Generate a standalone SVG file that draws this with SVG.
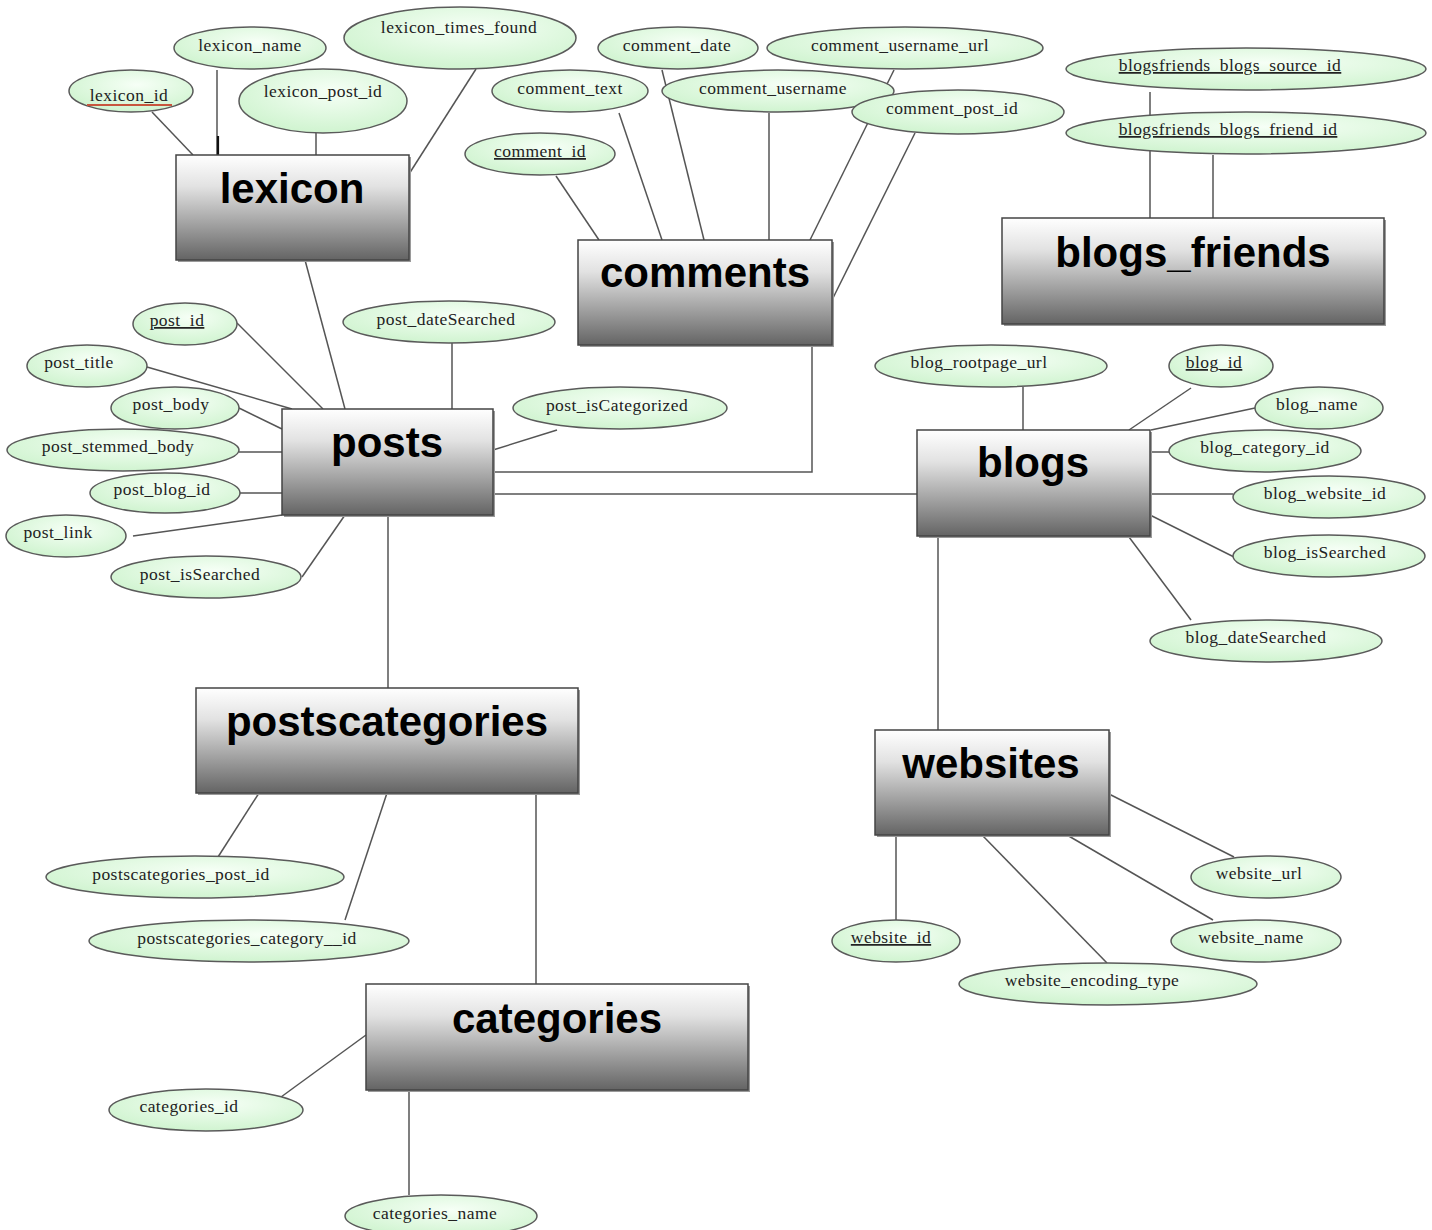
<svg xmlns="http://www.w3.org/2000/svg" width="1432" height="1230" viewBox="0 0 1432 1230">
  <defs>
    <linearGradient id="entityFill" x1="0" y1="0" x2="0" y2="1">
      <stop offset="0" stop-color="#ffffff"/>
      <stop offset="0.3" stop-color="#e2e2e2"/>
      <stop offset="1" stop-color="#646464"/>
    </linearGradient>
    <radialGradient id="attrFill" cx="0.55" cy="0.35" r="0.7">
      <stop offset="0" stop-color="#f6fff6"/>
      <stop offset="1" stop-color="#cdf3cd"/>
    </radialGradient>
    <style>
      .entity rect.box { fill: url(#entityFill); stroke: #444; stroke-width: 1.5; }
      .entity rect.shadow { fill: #9a9a9a; }
      .entity text { font-family: "Liberation Sans", Arial, sans-serif; font-weight: bold; font-size: 42px; fill: #000; text-anchor: middle; }
      .attr ellipse { fill: url(#attrFill); stroke: #5a5a5a; stroke-width: 1.5; }
      .attr text { font-family: "Liberation Serif", "Times New Roman", serif; font-size: 17.5px; letter-spacing: 0.45px; fill: #222; text-anchor: middle; }
      .attr text.key { text-decoration: underline; }
      #connectors line, #connectors polyline { stroke: #555; stroke-width: 1.5; fill: none; }
    </style>
  </defs>
  <rect width="1432" height="1230" fill="#ffffff"/>

  <!-- relationship and attribute lines -->
  <g id="connectors">
    <!-- lexicon -->
    <line x1="152" y1="112" x2="193" y2="155"/>
    <line x1="217" y1="70" x2="217" y2="155"/>
    <line x1="316" y1="133" x2="316" y2="155"/>
    <line x1="476" y1="69" x2="409" y2="174"/>
    <line x1="305" y1="260" x2="345" y2="409"/>
    <!-- comments -->
    <line x1="556" y1="176" x2="599" y2="240"/>
    <line x1="619" y1="113" x2="662" y2="240"/>
    <line x1="662" y1="70" x2="704" y2="240"/>
    <line x1="769" y1="113" x2="769" y2="240"/>
    <line x1="894" y1="70" x2="810" y2="240"/>
    <line x1="915" y1="133" x2="832" y2="300"/>
    <polyline points="812,345 812,472 493,472"/>
    <!-- blogs_friends -->
    <line x1="1150" y1="92" x2="1150" y2="218"/>
    <line x1="1213" y1="155" x2="1213" y2="218"/>
    <!-- posts -->
    <line x1="237" y1="323" x2="323" y2="409"/>
    <line x1="147" y1="367" x2="292" y2="409"/>
    <line x1="239" y1="408" x2="282" y2="429"/>
    <line x1="239" y1="452" x2="282" y2="452"/>
    <line x1="239" y1="493" x2="282" y2="493"/>
    <line x1="133" y1="536" x2="282" y2="515"/>
    <line x1="302" y1="577" x2="345" y2="515"/>
    <line x1="452" y1="343" x2="452" y2="409"/>
    <line x1="557" y1="430" x2="493" y2="450"/>
    <line x1="493" y1="494" x2="917" y2="494"/>
    <line x1="388" y1="515" x2="388" y2="688"/>
    <!-- blogs -->
    <line x1="1023" y1="387" x2="1023" y2="430"/>
    <line x1="1191" y1="388" x2="1129" y2="430"/>
    <line x1="1255" y1="408" x2="1151" y2="430"/>
    <line x1="1150" y1="452" x2="1169" y2="452"/>
    <line x1="1150" y1="494" x2="1233" y2="494"/>
    <line x1="1150" y1="515" x2="1234" y2="557"/>
    <line x1="1129" y1="537" x2="1191" y2="620"/>
    <line x1="938" y1="536" x2="938" y2="730"/>
    <!-- postscategories -->
    <line x1="259" y1="793" x2="218" y2="857"/>
    <line x1="387" y1="793" x2="345" y2="920"/>
    <line x1="536" y1="793" x2="536" y2="984"/>
    <!-- websites -->
    <line x1="896" y1="835" x2="896" y2="920"/>
    <line x1="982" y1="835" x2="1107" y2="963"/>
    <line x1="1067" y1="835" x2="1213" y2="920"/>
    <line x1="1109" y1="794" x2="1234" y2="857"/>
    <!-- categories -->
    <line x1="281" y1="1097" x2="366" y2="1035"/>
    <line x1="409" y1="1090" x2="409" y2="1195"/>
  </g>
  <!-- darker stub where lexicon_name meets the box -->
  <line x1="218" y1="136" x2="218" y2="166" stroke="#111" stroke-width="2.2"/>

  <!-- entities -->
  <g id="lexicon" class="entity">
    <rect class="shadow" x="178" y="157" width="233" height="105"/>
    <rect class="box" x="176" y="155" width="233" height="105"/>
    <text x="292" y="203">lexicon</text>
  </g>
  <g id="comments" class="entity">
    <rect class="shadow" x="580" y="242" width="254" height="105"/>
    <rect class="box" x="578" y="240" width="254" height="105"/>
    <text x="705" y="287">comments</text>
  </g>
  <g id="blogs_friends" class="entity">
    <rect class="shadow" x="1004" y="220" width="382" height="106"/>
    <rect class="box" x="1002" y="218" width="382" height="106"/>
    <text x="1193" y="267">blogs_friends</text>
  </g>
  <g id="posts" class="entity">
    <rect class="shadow" x="284" y="411" width="211" height="106"/>
    <rect class="box" x="282" y="409" width="211" height="106"/>
    <text x="387" y="457">posts</text>
  </g>
  <g id="blogs" class="entity">
    <rect class="shadow" x="919" y="432" width="233" height="106"/>
    <rect class="box" x="917" y="430" width="233" height="106"/>
    <text x="1033" y="477">blogs</text>
  </g>
  <g id="postscategories" class="entity">
    <rect class="shadow" x="198" y="690" width="382" height="105"/>
    <rect class="box" x="196" y="688" width="382" height="105"/>
    <text x="387" y="736">postscategories</text>
  </g>
  <g id="websites" class="entity">
    <rect class="shadow" x="877" y="732" width="234" height="105"/>
    <rect class="box" x="875" y="730" width="234" height="105"/>
    <text x="991" y="778">websites</text>
  </g>
  <g id="categories" class="entity">
    <rect class="shadow" x="368" y="986" width="382" height="106"/>
    <rect class="box" x="366" y="984" width="382" height="106"/>
    <text x="557" y="1033">categories</text>
  </g>

  <!-- lexicon attributes -->
  <g id="attr-lexicon_id" class="attr">
    <ellipse cx="131" cy="91" rx="62" ry="21"/>
    <text x="129" y="101">lexicon_id</text>
    <line x1="87" y1="105" x2="172" y2="105" stroke="#c8553d" stroke-width="2.2"/>
  </g>
  <g id="attr-lexicon_name" class="attr">
    <ellipse cx="250" cy="48" rx="76" ry="21"/>
    <text x="250" y="51">lexicon_name</text>
  </g>
  <g id="attr-lexicon_post_id" class="attr">
    <ellipse cx="323" cy="101" rx="84" ry="32"/>
    <text x="323" y="97">lexicon_post_id</text>
  </g>
  <g id="attr-lexicon_times_found" class="attr">
    <ellipse cx="460" cy="38" rx="116" ry="31"/>
    <text x="459" y="33">lexicon_times_found</text>
  </g>

  <!-- comments attributes -->
  <g id="attr-comment_date" class="attr">
    <ellipse cx="678" cy="48" rx="80" ry="21"/>
    <text x="677" y="51">comment_date</text>
  </g>
  <g id="attr-comment_username_url" class="attr">
    <ellipse cx="905" cy="48" rx="138" ry="21"/>
    <text x="900" y="51">comment_username_url</text>
  </g>
  <g id="attr-comment_text" class="attr">
    <ellipse cx="570" cy="91" rx="78" ry="21"/>
    <text x="570" y="94">comment_text</text>
  </g>
  <g id="attr-comment_username" class="attr">
    <ellipse cx="778" cy="91" rx="116" ry="21"/>
    <text x="773" y="94">comment_username</text>
  </g>
  <g id="attr-comment_post_id" class="attr">
    <ellipse cx="958" cy="112" rx="106" ry="22"/>
    <text x="952" y="114">comment_post_id</text>
  </g>
  <g id="attr-comment_id" class="attr">
    <ellipse cx="540" cy="154" rx="75" ry="21"/>
    <text class="key" x="540" y="157">comment_id</text>
  </g>

  <!-- blogs_friends attributes -->
  <g id="attr-blogsfriends_blogs_source_id" class="attr">
    <ellipse cx="1246" cy="69" rx="180" ry="21"/>
    <text class="key" x="1230" y="71">blogsfriends_blogs_source_id</text>
  </g>
  <g id="attr-blogsfriends_blogs_friend_id" class="attr">
    <ellipse cx="1246" cy="133" rx="180" ry="21"/>
    <text class="key" x="1228" y="135">blogsfriends_blogs_friend_id</text>
  </g>

  <!-- posts attributes -->
  <g id="attr-post_id" class="attr">
    <ellipse cx="185" cy="324" rx="52" ry="21"/>
    <text class="key" x="177" y="326">post_id</text>
  </g>
  <g id="attr-post_title" class="attr">
    <ellipse cx="87" cy="366" rx="60" ry="21"/>
    <text x="79" y="368">post_title</text>
  </g>
  <g id="attr-post_body" class="attr">
    <ellipse cx="175" cy="408" rx="64" ry="21"/>
    <text x="171" y="410">post_body</text>
  </g>
  <g id="attr-post_stemmed_body" class="attr">
    <ellipse cx="123" cy="450" rx="116" ry="21"/>
    <text x="118" y="452">post_stemmed_body</text>
  </g>
  <g id="attr-post_blog_id" class="attr">
    <ellipse cx="165" cy="493" rx="75" ry="20"/>
    <text x="162" y="495">post_blog_id</text>
  </g>
  <g id="attr-post_link" class="attr">
    <ellipse cx="66" cy="536" rx="60" ry="21"/>
    <text x="58" y="538">post_link</text>
  </g>
  <g id="attr-post_isSearched" class="attr">
    <ellipse cx="206" cy="577" rx="95" ry="21"/>
    <text x="200" y="580">post_isSearched</text>
  </g>
  <g id="attr-post_dateSearched" class="attr">
    <ellipse cx="449" cy="322" rx="106" ry="21"/>
    <text x="446" y="325">post_dateSearched</text>
  </g>
  <g id="attr-post_isCategorized" class="attr">
    <ellipse cx="620" cy="408" rx="107" ry="21"/>
    <text x="617" y="411">post_isCategorized</text>
  </g>

  <!-- blogs attributes -->
  <g id="attr-blog_rootpage_url" class="attr">
    <ellipse cx="991" cy="366" rx="116" ry="21"/>
    <text x="979" y="368">blog_rootpage_url</text>
  </g>
  <g id="attr-blog_id" class="attr">
    <ellipse cx="1221" cy="366" rx="52" ry="21"/>
    <text class="key" x="1214" y="368">blog_id</text>
  </g>
  <g id="attr-blog_name" class="attr">
    <ellipse cx="1319" cy="408" rx="64" ry="21"/>
    <text x="1317" y="410">blog_name</text>
  </g>
  <g id="attr-blog_category_id" class="attr">
    <ellipse cx="1265" cy="451" rx="96" ry="21"/>
    <text x="1265" y="453">blog_category_id</text>
  </g>
  <g id="attr-blog_website_id" class="attr">
    <ellipse cx="1329" cy="497" rx="96" ry="21"/>
    <text x="1325" y="499">blog_website_id</text>
  </g>
  <g id="attr-blog_isSearched" class="attr">
    <ellipse cx="1329" cy="556" rx="96" ry="21"/>
    <text x="1325" y="558">blog_isSearched</text>
  </g>
  <g id="attr-blog_dateSearched" class="attr">
    <ellipse cx="1266" cy="641" rx="116" ry="21"/>
    <text x="1256" y="643">blog_dateSearched</text>
  </g>

  <!-- postscategories attributes -->
  <g id="attr-postscategories_post_id" class="attr">
    <ellipse cx="195" cy="877" rx="149" ry="21"/>
    <text x="181" y="880">postscategories_post_id</text>
  </g>
  <g id="attr-postscategories_category__id" class="attr">
    <ellipse cx="249" cy="941" rx="160" ry="21"/>
    <text x="247" y="944">postscategories_category__id</text>
  </g>

  <!-- websites attributes -->
  <g id="attr-website_id" class="attr">
    <ellipse cx="896" cy="941" rx="64" ry="21"/>
    <text class="key" x="891" y="943">website_id</text>
  </g>
  <g id="attr-website_encoding_type" class="attr">
    <ellipse cx="1108" cy="984" rx="149" ry="21"/>
    <text x="1092" y="986">website_encoding_type</text>
  </g>
  <g id="attr-website_name" class="attr">
    <ellipse cx="1256" cy="941" rx="85" ry="21"/>
    <text x="1251" y="943">website_name</text>
  </g>
  <g id="attr-website_url" class="attr">
    <ellipse cx="1266" cy="877" rx="75" ry="21"/>
    <text x="1259" y="879">website_url</text>
  </g>

  <!-- categories attributes -->
  <g id="attr-categories_id" class="attr">
    <ellipse cx="206" cy="1110" rx="97" ry="21"/>
    <text x="189" y="1112">categories_id</text>
  </g>
  <g id="attr-categories_name" class="attr">
    <ellipse cx="441" cy="1216" rx="96" ry="21"/>
    <text x="435" y="1219">categories_name</text>
  </g>
</svg>
